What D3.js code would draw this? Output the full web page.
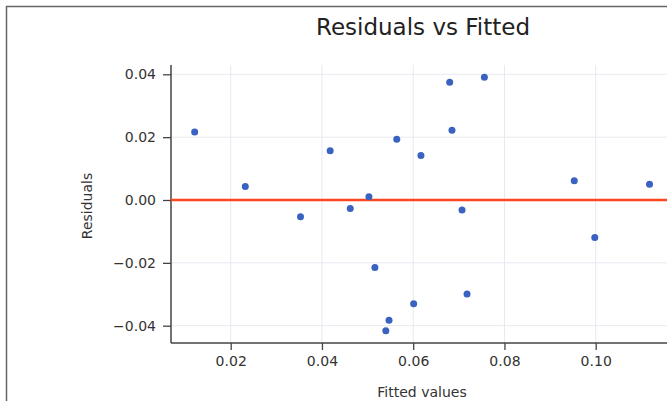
<!DOCTYPE html>
<html>
<head>
<meta charset="utf-8">
<script src="https://cdn.jsdelivr.net/npm/d3@7"></script>
<style>
  body { margin: 0; background: #fff; }
  text { font-family: "DejaVu Sans", sans-serif; fill: #333; }
</style>
</head>
<body>
<svg id="vis"></svg>
<script>
const svg = d3.select("#vis").attr("width", 667).attr("height", 401);

// data
const fitted = [0.0121, 0.0232, 0.0353, 0.0418, 0.0462, 0.0503, 0.0516, 0.0564,
                0.0547, 0.0540, 0.0601, 0.0617, 0.0680, 0.0685, 0.0707, 0.0718,
                0.0756, 0.0953, 0.0998, 0.1118];
const residuals = [0.0216, 0.0043, -0.0053, 0.0157, -0.0027, 0.0010, -0.0215, 0.0193,
                   -0.0383, -0.0416, -0.0330, 0.0142, 0.0375, 0.0222, -0.0032, -0.0299,
                   0.0391, 0.0061, -0.0119, 0.0050];
const xTicks = [0.02, 0.04, 0.06, 0.08, 0.10];
const yTicks = [-0.04, -0.02, 0.00, 0.02, 0.04];

const POINT_COLOR = "#3a62c0";
const LINE_COLOR = "#ff4422";

let xscale = d3.scaleLinear()
            .domain([0.02, 0.10])
            .range([230.7, 595.7]);

let yscale = d3.scaleLinear()
            .domain([-0.04, 0.04])
            .range([325.7, 74.3]);

const PLOT_LEFT = 171, PLOT_RIGHT = 672, PLOT_TOP = 65, PLOT_BOTTOM = 343;


function main() {
    // outer frame
    svg.append("path")
        .attr("d", "M6.5,401 V6.5 H667")
        .attr("fill", "none")
        .attr("stroke", "#666")
        .attr("stroke-width", 1.5);

    drawGrid();
    drawAxes();

    svg.append("line")
        .attr("x1", PLOT_LEFT).attr("x2", PLOT_RIGHT)
        .attr("y1", yscale(0)).attr("y2", yscale(0))
        .attr("stroke", LINE_COLOR)
        .attr("stroke-width", 2.5);

    const pointData = fitted.map((f, i) => ({x: f, y: residuals[i]}));
    drawPoints(pointData);

    svg.append("text")
        .attr("x", 423).attr("y", 35)
        .attr("text-anchor", "middle")
        .style("font-size", "23px")
        .style("fill", "#222")
        .text("Residuals vs Fitted");

    svg.append("text")
        .attr("x", 422).attr("y", 397)
        .attr("text-anchor", "middle")
        .style("font-size", "14px")
        .text("Fitted values");

    svg.append("text")
        .attr("transform", "translate(92,206) rotate(-90)")
        .attr("text-anchor", "middle")
        .style("font-size", "14px")
        .text("Residuals");
}


function drawGrid() {
    svg.selectAll(".vgrid").data(xTicks).join("line")
        .attr("class", "vgrid")
        .attr("x1", d => xscale(d)).attr("x2", d => xscale(d))
        .attr("y1", PLOT_TOP).attr("y2", PLOT_BOTTOM)
        .attr("stroke", "#e6eaf0")
        .attr("stroke-width", 1);

    svg.selectAll(".hgrid").data(yTicks).join("line")
        .attr("class", "hgrid")
        .attr("x1", PLOT_LEFT).attr("x2", PLOT_RIGHT)
        .attr("y1", d => yscale(d)).attr("y2", d => yscale(d))
        .attr("stroke", "#e6eaf0")
        .attr("stroke-width", 1);
}


function drawAxes() {
    const xAxis = d3.axisBottom(xscale)
        .tickValues(xTicks)
        .tickFormat(d3.format(".2f"))
        .tickSize(7)
        .tickPadding(6);
    const gx = svg.append("g")
        .attr("transform", `translate(0,${PLOT_BOTTOM})`)
        .call(xAxis);
    gx.select(".domain").remove();
    gx.append("line")
        .attr("x1", PLOT_LEFT).attr("x2", PLOT_RIGHT)
        .attr("stroke", "#444").attr("stroke-width", 1.5);

    const yAxis = d3.axisLeft(yscale)
        .tickValues(yTicks)
        .tickFormat(d => d3.format(".2f")(d).replace("-", "\u2212"))
        .tickSize(8)
        .tickPadding(7);
    const gy = svg.append("g")
        .attr("transform", `translate(${PLOT_LEFT},0)`)
        .call(yAxis);
    gy.select(".domain").remove();
    gy.append("line")
        .attr("y1", PLOT_TOP).attr("y2", PLOT_BOTTOM)
        .attr("stroke", "#444").attr("stroke-width", 1.5);

    svg.selectAll(".tick line").attr("stroke", "#444").attr("stroke-width", 1.3);
    svg.selectAll(".tick text")
        .style("font-size", "14px")
        .style("font-family", "DejaVu Sans, sans-serif")
        .attr("fill", "#333");
}


function drawPoints(pointData) {
    svg.selectAll(".points").data(pointData).join("circle")
        .attr("class", "points")
        .attr("fill", POINT_COLOR)
        .attr("cx", d => xscale(d.x))
        .attr("cy", d => yscale(d.y))
        .attr("r", 3.5);
}


main();
</script>
</body>
</html>
